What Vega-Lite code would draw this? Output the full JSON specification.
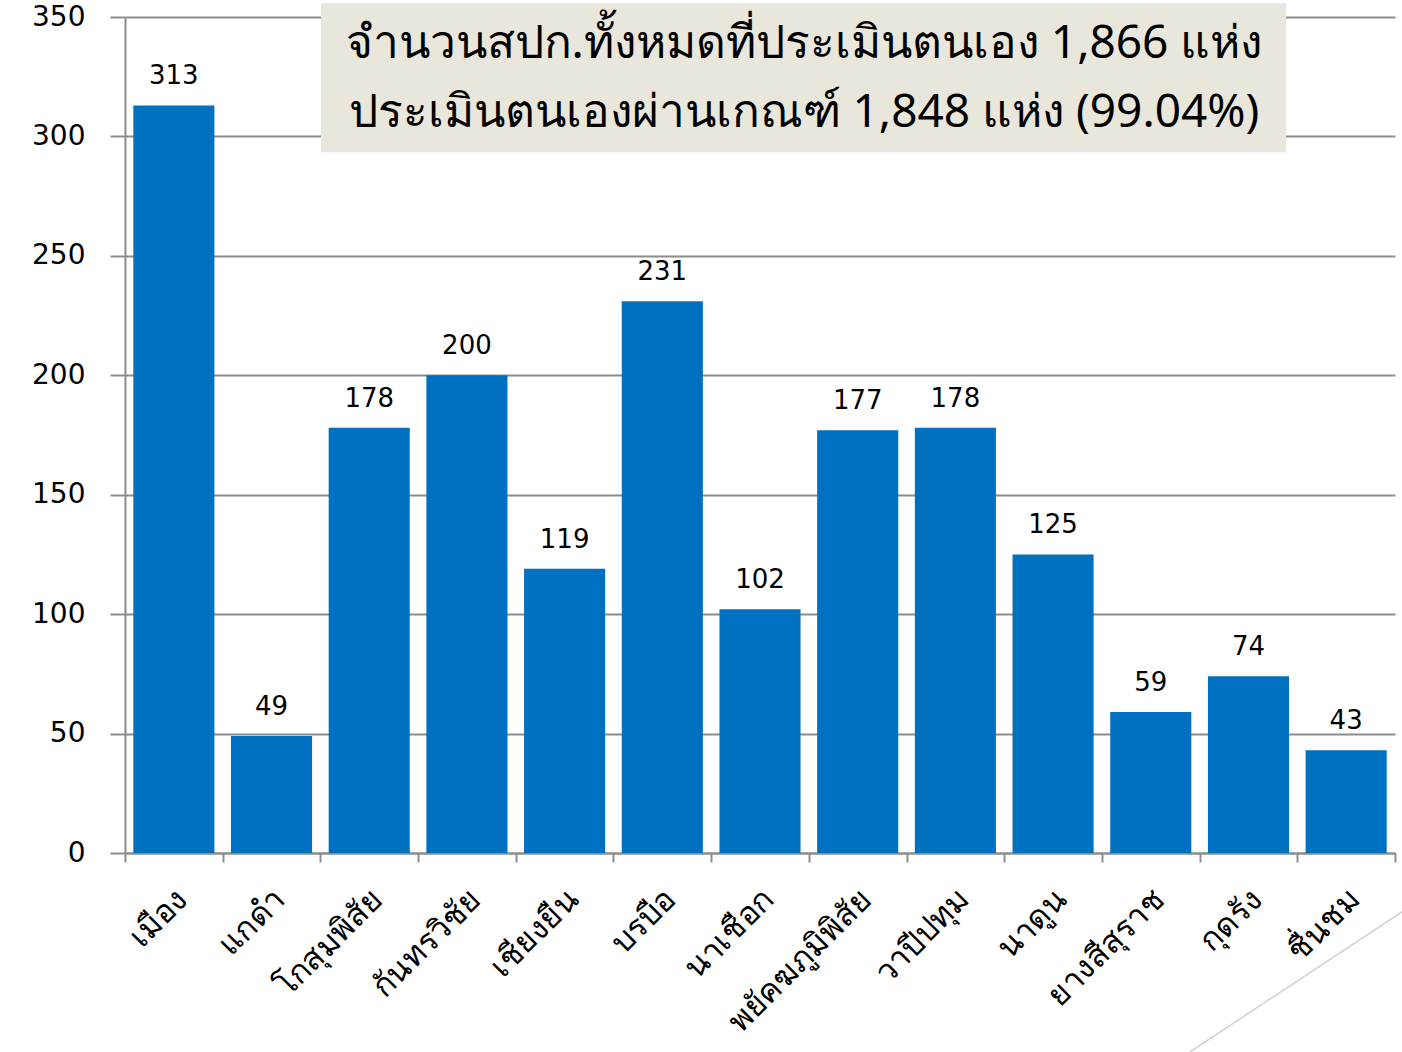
{
  "$schema": "https://vega.github.io/schema/vega-lite/v6.json",
  "autosize": "none",
  "width": 1270,
  "height": 836,
  "padding": {"left": 125, "top": 17, "right": 7, "bottom": 199},
  "background": "white",
  "config": {"view": {"stroke": null}, "font": "Noto Sans"},
  "datasets": {
    "districts": [
      {"district": "เมือง", "count": 313},
      {"district": "แกดำ", "count": 49},
      {"district": "โกสุมพิสัย", "count": 178},
      {"district": "กันทรวิชัย", "count": 200},
      {"district": "เชียงยืน", "count": 119},
      {"district": "บรบือ", "count": 231},
      {"district": "นาเชือก", "count": 102},
      {"district": "พยัคฆภูมิพิสัย", "count": 177},
      {"district": "วาปีปทุม", "count": 178},
      {"district": "นาดูน", "count": 125},
      {"district": "ยางสีสุราช", "count": 59},
      {"district": "กุดรัง", "count": 74},
      {"district": "ชื่นชม", "count": 43}
    ],
    "note": [
      {"line": "จำนวนสปก.ทั้งหมดที่ประเมินตนเอง 1,866 แห่ง", "row": 1},
      {"line": "ประเมินตนเองผ่านเกณฑ์ 1,848 แห่ง (99.04%)", "row": 2}
    ]
  },
  "resolve": {"scale": {"x": "independent"}, "axis": {"x": "independent"}},
  "layer": [
    {
      "data": {"name": "districts"},
      "mark": {"type": "bar", "color": "#0070C0"},
      "encoding": {
        "x": {
          "field": "district", "type": "nominal", "sort": null,
          "scale": {"paddingInner": 0.17, "paddingOuter": 0.085},
          "axis": null
        },
        "y": {
          "field": "count", "type": "quantitative",
          "scale": {"domain": [0, 350]},
          "axis": {
            "title": null, "values": [0, 50, 100, 150, 200, 250, 300, 350],
            "grid": true, "gridColor": "#8C8C8C", "gridWidth": 2,
            "domainColor": "#8C8C8C", "domainWidth": 2,
            "tickColor": "#8C8C8C", "tickWidth": 2, "tickSize": 15,
            "labelPadding": 25, "labelFontSize": 28, "labelFont": "DejaVu Sans", "labelColor": "black"
          }
        }
      }
    },
    {
      "data": {"name": "districts"},
      "mark": {"type": "text", "baseline": "alphabetic", "dy": -21, "fontSize": 26, "font": "DejaVu Sans", "color": "black"},
      "encoding": {
        "x": {
          "field": "district", "type": "nominal", "sort": null,
          "scale": {"paddingInner": 0, "paddingOuter": 0},
          "axis": {
            "orient": "bottom", "title": null,
            "labelAngle": -45, "labelAlign": "right", "labelBaseline": "middle",
            "labelFontSize": 32, "labelPadding": 32, "labelOffset": 8, "labelColor": "black",
            "labelLimit": 0, "labelOverlap": false,
            "tickBand": "extent", "ticks": true, "tickColor": "#8C8C8C", "tickWidth": 2, "tickSize": 9,
            "domainColor": "#8C8C8C", "domainWidth": 2
          }
        },
        "y": {"field": "count", "type": "quantitative", "scale": {"domain": [0, 350]}},
        "text": {"field": "count", "type": "quantitative"}
      }
    },
    {
      "data": {"name": "note"},
      "transform": [{"filter": "datum.row == 1"}],
      "mark": {"type": "rect", "color": "#E9E7DC"},
      "encoding": {
        "x": {"datum": 2.006, "type": "quantitative", "scale": {"domain": [0, 13]}, "axis": null},
        "x2": {"datum": 11.885},
        "y": {"datum": 355.8, "type": "quantitative", "scale": {"domain": [0, 350]}},
        "y2": {"datum": 293.4}
      }
    },
    {
      "data": {"name": "note"},
      "transform": [{"filter": "datum.row == 1"}],
      "mark": {"type": "text", "fontSize": 46, "color": "black", "baseline": "middle"},
      "encoding": {
        "x": {"datum": 6.95, "type": "quantitative", "scale": {"domain": [0, 13]}, "axis": null},
        "y": {"datum": 338.6, "type": "quantitative", "scale": {"domain": [0, 350]}},
        "text": {"field": "line", "type": "nominal"}
      }
    },
    {
      "data": {"name": "note"},
      "transform": [{"filter": "datum.row == 2"}],
      "mark": {"type": "text", "fontSize": 46, "color": "black", "baseline": "middle"},
      "encoding": {
        "x": {"datum": 6.95, "type": "quantitative", "scale": {"domain": [0, 13]}, "axis": null},
        "y": {"datum": 310.0, "type": "quantitative", "scale": {"domain": [0, 350]}},
        "text": {"field": "line", "type": "nominal"}
      }
    },
    {
      "data": {"name": "note"},
      "transform": [{"filter": "datum.row == 1"}],
      "mark": {"type": "rule", "color": "#D0D0D0", "strokeWidth": 1.5},
      "encoding": {
        "x": {"datum": 10.9, "type": "quantitative", "scale": {"domain": [0, 13]}, "axis": null},
        "x2": {"datum": 13.07},
        "y": {"datum": -83.3, "type": "quantitative", "scale": {"domain": [0, 350]}},
        "y2": {"datum": -24.7}
      }
    }
  ]
}
